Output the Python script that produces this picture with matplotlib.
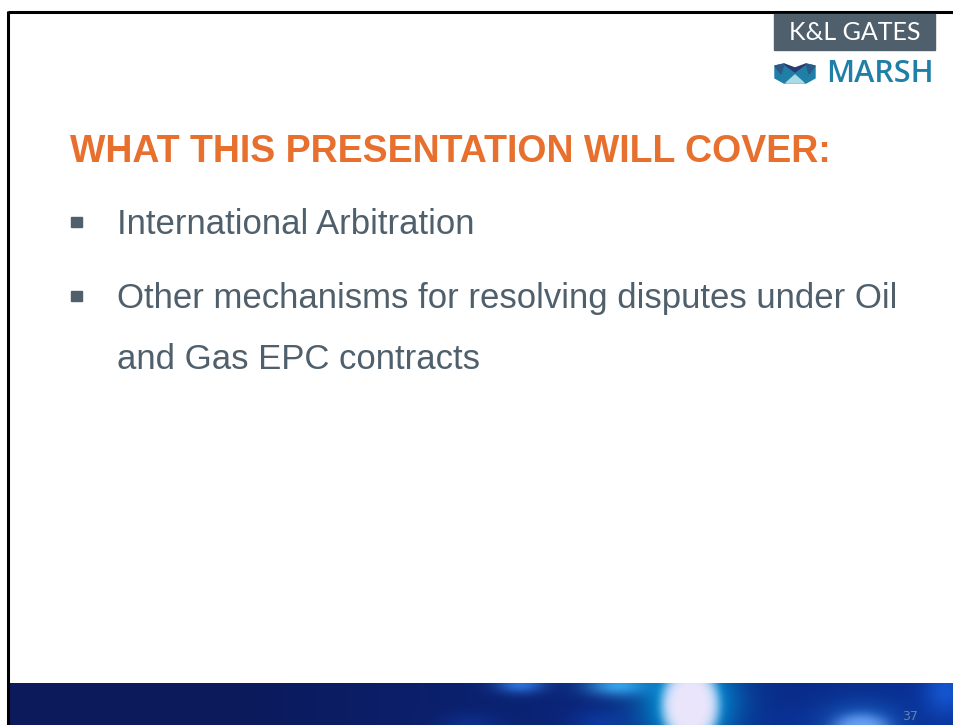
import numpy as np
import matplotlib
matplotlib.use("Agg")
import matplotlib.pyplot as plt
from matplotlib.patches import Rectangle, Polygon

title = "WHAT THIS PRESENTATION WILL COVER:"
bullets = [["International Arbitration"],
           ["Other mechanisms for resolving disputes under Oil",
            "and Gas EPC contracts"]]
logo_top = "K&L GATES"
logo_bottom = "MARSH"
page_no = "37"

W, H = 954, 725
fig = plt.figure(figsize=(W / 100, H / 100), dpi=100)
ax = fig.add_axes([0, 0, 1, 1])
ax.set_xlim(0, W)
ax.set_ylim(H, 0)
ax.axis("off")

# frame lines
ax.plot([8, W], [12, 12], color="black", lw=2.2, solid_capstyle="butt")
ax.plot([8, 8], [11, H], color="black", lw=2.2, solid_capstyle="butt")

# bottom band with bokeh
band_top = 683
xs = np.arange(10, W, 1.0)
ys = np.arange(band_top, H, 1.0)
X, Y = np.meshgrid(xs, ys)
left = np.array([12, 26, 92]) / 255
right = np.array([8, 48, 150]) / 255
t = np.clip((X - 250) / 700, 0, 1)
img = left[None, None, :] * (1 - t[..., None]) + right[None, None, :] * t[..., None]


def add_blob(img, cx, cy, rx, ry, col, a, p=2.0):
    d = ((X - cx) / rx) ** 2 + ((Y - cy) / ry) ** 2
    g = np.exp(-d ** (p / 2))
    c = np.array(col) / 255
    return img * (1 - a * g[..., None]) + c[None, None, :] * a * g[..., None]


blobs = [
    (520, 684, 24, 9, (50, 130, 240), 0.8, 2),
    (618, 685, 32, 11, (60, 170, 245), 0.9, 2),
    (600, 722, 30, 14, (15, 70, 190), 0.5, 2),
    (470, 725, 30, 12, (15, 60, 170), 0.5, 2),
    (689, 703, 46, 48, (0, 190, 250), 0.95, 2),
    (690, 705, 29, 40, (236, 230, 252), 1.0, 6),
    (860, 727, 26, 13, (190, 180, 250), 0.95, 3),
    (860, 725, 40, 22, (40, 150, 245), 0.55, 2),
    (945, 690, 22, 26, (25, 100, 230), 0.7, 2),
    (790, 720, 40, 15, (10, 55, 165), 0.4, 2),
]
for b in blobs:
    img = add_blob(img, *b)
img = np.clip(img, 0, 1)
ax.imshow(img, extent=[10, W, H, band_top], aspect="auto", zorder=1,
          interpolation="bilinear")
ax.text(910, 716, page_no, fontsize=9, color="#6f7fa6", ha="center", va="center",
        family="Liberation Sans Narrow", zorder=3)

# logos
ax.add_patch(Rectangle((774, 14), 161, 36, color="#4f606c", zorder=2))
ax.text(855, 32.5, logo_top, fontsize=18, color="white", ha="center", va="center",
        family="Lato", zorder=3)
# marsh icon
teal = "#1f7fa6"
ax.add_patch(Polygon([(775, 66), (784, 64), (795, 72), (795, 83), (784, 83), (775, 78)],
                     color=teal, zorder=2))
ax.add_patch(Polygon([(795, 72), (806, 64), (815, 66), (815, 78), (806, 83), (795, 83)],
                     color=teal, zorder=2))
ax.add_patch(Polygon([(784, 64), (795, 72), (806, 64), (795, 68)], color="#2b3a70", zorder=3))
ax.add_patch(Polygon([(786, 83), (795, 75), (804, 83)], color="#a9dbe6", zorder=3))
ax.add_patch(Polygon([(775, 66), (784, 64), (781, 74)], color="#2c5a86", zorder=3))
ax.add_patch(Polygon([(815, 66), (806, 64), (809, 74)], color="#2c5a86", zorder=3))
ax.text(826, 73.5, logo_bottom, fontsize=22, color=teal, ha="left", va="center",
        family="Open Sans", fontweight="semibold", zorder=3)

# title
ax.text(70, 152, title, fontsize=27, fontweight="bold", color="#e8702e",
        ha="left", va="center", family="Liberation Sans")

# bullets
text_col = "#4f606c"
baselines = [[234], [308, 369]]
for lines, bls in zip(bullets, baselines):
    ax.add_patch(Rectangle((71, bls[0] - 17), 11, 10, color=text_col))
    for line, bl in zip(lines, bls):
        ax.text(117, bl, line, fontsize=25, color=text_col, ha="left",
                va="baseline", family="Liberation Sans")

fig.savefig("out.png", dpi=100)
